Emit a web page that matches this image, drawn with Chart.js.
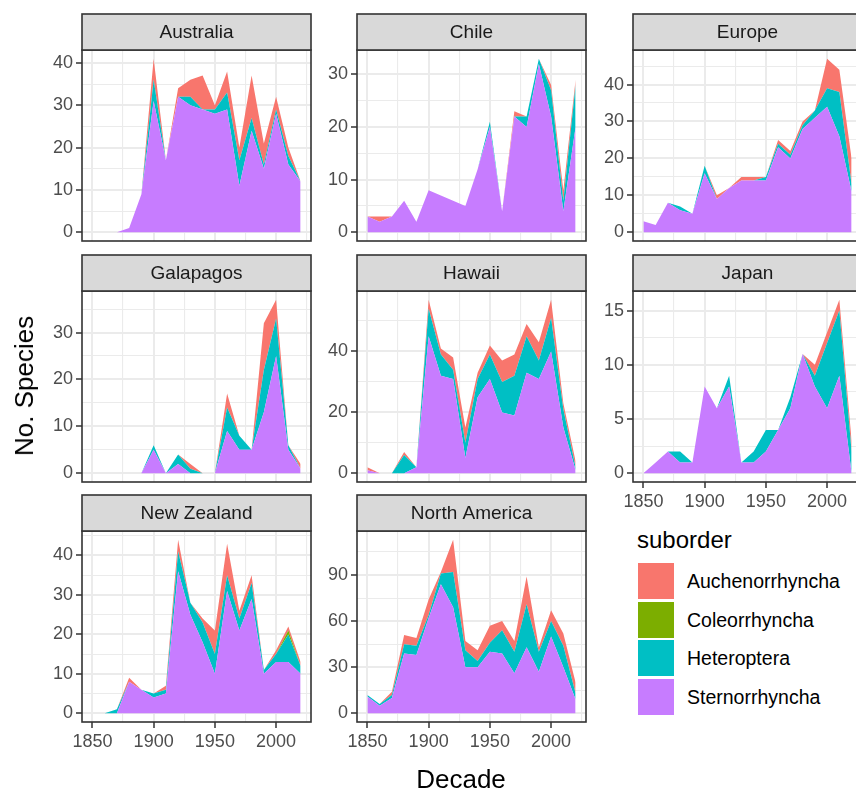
<!DOCTYPE html>
<html><head><meta charset="utf-8">
<script src="https://cdn.jsdelivr.net/npm/chart.js@4.4.1/dist/chart.umd.min.js"></script>
<style>
html,body{margin:0;padding:0;width:856px;height:792px;overflow:hidden;background:#fff;}
body{position:relative;font-family:'Liberation Sans',Arial,sans-serif;}
canvas{position:absolute;}
.t{position:absolute;white-space:nowrap;color:#000;line-height:1;}
.key{position:absolute;width:36px;height:36px;}
</style></head><body>
<script>
// ---------------- DATA ----------------
const decades = [1850,1860,1870,1880,1890,1900,1910,1920,1930,1940,1950,1960,1970,1980,1990,2000,2010,2020];
const suborders = ['Auchenorrhyncha','Coleorrhyncha','Heteroptera','Sternorrhyncha'];
const regions = ['Australia','Chile','Europe','Galapagos','Hawaii','Japan','New Zealand','North America'];
const xTickLabels = [1850,1900,1950,2000];

// Sternorrhyncha (S), Heteroptera (H), Coleorrhyncha (C), Auchenorrhyncha (A)
const australiaS = [0,0,0,1,9,31,17,32,30,29,28,29,11,24,15,28,16,12];
const australiaH = [0,0,0,0,0,5,0,0,2,0,1,4,6,3,1,1,2,0];
const australiaC = [0,0,0,0,0,0,0,0,0,0,0,0,0,0,0,0,0,0];
const australiaA = [0,0,0,0,0,5,0,2,4,8,1,5,3,10,5,3,2,0];

const chileS = [3,2,3,6,2,8,7,6,5,12,20,4,22,20,32,22,4,20];
const chileH = [0,0,0,0,0,0,0,0,0,0,1,0,0,2,1,5,2,8];
const chileC = [0,0,0,0,0,0,0,0,0,0,0,0,0,0,0,0,0,0];
const chileA = [0,1,0,0,0,0,0,0,0,0,0,0,1,0,0,1,2,1];

const europeS = [3,2,8,6,5,16,9,12,14,14,14,23,20,28,31,34,26,11];
const europeH = [0,0,0,1,0,2,0,0,0,0,1,1,1,1,2,5,12,2];
const europeC = [0,0,0,0,0,0,0,0,0,0,0,0,0,0,0,0,0,0];
const europeA = [0,0,0,0,0,0,1,0,1,1,0,1,1,1,0,8,6,7];

const galapagosS = [0,0,0,0,0,5,0,2,0,0,0,9,5,5,13,25,5,1];
const galapagosH = [0,0,0,0,0,1,0,2,1,0,0,5,3,0,9,8,1,0];
const galapagosC = [0,0,0,0,0,0,0,0,0,0,0,0,0,0,0,0,0,0];
const galapagosA = [0,0,0,0,0,0,0,0,1,0,0,3,0,0,10,4,0,1];

const hawaiiS = [1,0,0,0,2,45,32,31,5,25,31,20,19,33,31,40,15,1];
const hawaiiH = [0,0,0,6,0,9,7,3,5,6,8,10,13,12,6,11,6,1];
const hawaiiC = [0,0,0,0,0,0,0,0,0,0,0,0,0,0,0,0,0,0];
const hawaiiA = [1,0,0,1,0,3,2,4,5,2,3,7,7,4,6,6,2,2];

const japanS = [0,1,2,1,1,8,6,8,1,1,2,4,6,11,8,6,9,0];
const japanH = [0,0,0,1,0,0,0,1,0,1,2,0,1,0,1,6,6,2];
const japanC = [0,0,0,0,0,0,0,0,0,0,0,0,0,0,0,0,0,0];
const japanA = [0,0,0,0,0,0,0,0,0,0,0,0,0,0,1,1,1,1];

const newZealandS = [null,0,0,8,6,4,5,36,25,18,10,31,21,29,10,13,13,10];
const newZealandH = [null,0,1,0,0,1,1,5,3,5,5,4,3,4,1,2,7,2];
const newZealandC = [null,0,0,0,0,0,0,0,0,0,0,0,0,0,0,0,1,0];
const newZealandA = [null,0,0,1,0,0,1,3,0,1,6,8,2,2,0,1,1,1];

const northAmericaS = [11,5,10,39,38,62,84,69,30,30,40,39,26,43,27,50,30,9];
const northAmericaH = [1,1,2,6,6,2,7,23,11,4,6,15,14,28,13,10,14,4];
const northAmericaC = [0,0,0,0,0,0,0,0,0,0,0,0,0,0,0,0,0,0];
const northAmericaA = [0,0,2,6,5,10,1,21,6,7,11,6,7,18,3,7,8,7];

// y-axis label step for each facet
const yTickSteps = [10,10,10,10,20,5,10,30];
</script>
<script>
// ---------------- LAYOUT / STYLE ----------------
const FONT = "'Liberation Sans', Arial, sans-serif";
Chart.defaults.font.family = FONT;
const colorOf = {Auchenorrhyncha:'#F8766D', Coleorrhyncha:'#7CAE00', Heteroptera:'#00BFC4', Sternorrhyncha:'#C77CFF'};
const PLOT_L = [82, 357, 633], PLOT_T = [50, 291, 531];
const PLOT_W = 229, PLOT_H = 191, STRIP_H = 36, YAX_W = 45, XAX_H = 36, PAD_B = 14, PAD_T = 2;
const X_MIN = 1841.5, X_MAX = 2028.5;
const xGridTicks = [1850,1875,1900,1925,1950,1975,2000,2025];

const regionData = [
  [australiaS, australiaH, australiaC, australiaA],
  [chileS, chileH, chileC, chileA],
  [europeS, europeH, europeC, europeA],
  [galapagosS, galapagosH, galapagosC, galapagosA],
  [hawaiiS, hawaiiH, hawaiiC, hawaiiA],
  [japanS, japanH, japanC, japanA],
  [newZealandS, newZealandH, newZealandC, newZealandA],
  [northAmericaS, northAmericaH, northAmericaC, northAmericaA]
];
const showX = [false,false,false,false,false,true,true,true];

const facetPlugin = {
  id: 'facet',
  afterDraw(chart, args, opts) {
    const {ctx, chartArea: a} = chart;
    ctx.save();
    ctx.strokeStyle = '#333333';
    ctx.lineWidth = 1.6;
    ctx.strokeRect(a.left, a.top, a.right - a.left, a.bottom - a.top);
    const top = a.top - STRIP_H;
    ctx.fillStyle = '#D9D9D9';
    ctx.fillRect(a.left, top, a.right - a.left, STRIP_H);
    ctx.strokeRect(a.left, top, a.right - a.left, STRIP_H);
    ctx.fillStyle = '#1A1A1A';
    ctx.font = '19px ' + FONT;
    ctx.textAlign = 'center';
    ctx.textBaseline = 'middle';
    ctx.fillText(opts.title, (a.left + a.right) / 2, top + STRIP_H / 2 + 1);
    ctx.restore();
  }
};

function makePanel(idx) {
  const row = Math.floor(idx / 3), col = idx % 3;
  const [S, H, C, A] = regionData[idx];
  const xlab = showX[idx];
  const canvas = document.createElement('canvas');
  const left = PLOT_L[col] - YAX_W, top = PLOT_T[row] - STRIP_H - PAD_T;
  const w = YAX_W + PLOT_W + 2;
  const h = PAD_T + STRIP_H + PLOT_H + (xlab ? XAX_H : PAD_B);
  canvas.width = w; canvas.height = h;
  canvas.style.left = left + 'px'; canvas.style.top = top + 'px';
  document.body.appendChild(canvas);

  const stackOrder = ['Sternorrhyncha','Heteroptera','Coleorrhyncha','Auchenorrhyncha'];
  const arrays = [S, H, C, A];
  let maxTot = 0;
  decades.forEach((d, i) => {
    if (S[i] == null) return;
    const t = S[i] + H[i] + C[i] + A[i];
    if (t > maxTot) maxTot = t;
  });
  const yMin = -0.05 * maxTot, yMax = 1.05 * maxTot;
  const step = yTickSteps[idx];
  const yt = [];
  for (let v = 0; v <= yMax + 1e-9; v += step / 2) yt.push(v);
  const isMajY = v => Math.abs(v / step - Math.round(v / step)) < 1e-9;
  const isMajX = v => xTickLabels.includes(v);

  const datasets = arrays.map((arr, k) => ({
    label: stackOrder[k],
    data: decades.map((d, i) => arr[i] == null ? null : {x: d, y: arr[i]}).filter(v => v),
    backgroundColor: colorOf[stackOrder[k]],
    borderColor: 'rgba(0,0,0,0)',
    borderWidth: 0,
    pointRadius: 0,
    fill: k === 0 ? 'origin' : '-1',
    tension: 0
  }));

  new Chart(canvas, {
    type: 'line',
    data: {datasets},
    plugins: [facetPlugin],
    options: {
      responsive: false,
      animation: false,
      layout: {padding: {top: PAD_T + STRIP_H, right: 2, bottom: xlab ? 0 : PAD_B, left: 0}},
      plugins: {legend: {display: false}, tooltip: {enabled: false}, facet: {title: regions[idx]}},
      scales: {
        x: {
          type: 'linear', min: X_MIN, max: X_MAX,
          afterBuildTicks: s => { s.ticks = xGridTicks.map(v => ({value: v})); },
          afterFit: s => { s.height = xlab ? XAX_H : 0; },
          border: {display: false},
          grid: {
            color: '#EBEBEB',
            lineWidth: c => (c.tick && isMajX(c.tick.value)) ? 2 : 1.1,
            drawTicks: xlab, tickLength: 6, tickWidth: 1.5,
            tickColor: c => (c.tick && isMajX(c.tick.value)) ? '#333333' : 'rgba(0,0,0,0)'
          },
          ticks: {
            display: xlab, autoSkip: false, maxRotation: 0, minRotation: 0,
            color: '#4D4D4D', font: {size: 18}, padding: 3,
            callback: v => isMajX(v) ? String(v) : ''
          }
        },
        y: {
          stacked: true, min: yMin, max: yMax,
          afterBuildTicks: s => { s.ticks = yt.map(v => ({value: v})); },
          afterFit: s => { s.width = YAX_W; },
          border: {display: false},
          grid: {
            color: '#EBEBEB',
            lineWidth: c => (c.tick && isMajY(c.tick.value)) ? 2 : 1.1,
            drawTicks: true, tickLength: 6, tickWidth: 1.5,
            tickColor: c => (c.tick && isMajY(c.tick.value)) ? '#333333' : 'rgba(0,0,0,0)'
          },
          ticks: {
            color: '#4D4D4D', font: {size: 18}, padding: 3, autoSkip: false,
            callback: v => isMajY(v) ? String(Math.round(v)) : ''
          }
        }
      }
    }
  });
}
regions.forEach((r, i) => makePanel(i));

// ---------------- TEXT: axis titles & legend ----------------
function addText(txt, size, leftPx, baseline, extra) {
  const d = document.createElement('div');
  d.className = 't';
  d.textContent = txt;
  d.style.fontSize = size + 'px';
  d.style.left = leftPx + 'px';
  d.style.top = (baseline - 0.8465 * size) + 'px';
  if (extra) Object.assign(d.style, extra);
  document.body.appendChild(d);
  return d;
}
// x title
const dx = addText('Decade', 26, 0, 788);
dx.style.left = '461px'; dx.style.transform = 'translateX(-50%)';
// y title
const dy = document.createElement('div');
dy.className = 't'; dy.textContent = 'No. Species'; dy.style.fontSize = '26px';
dy.style.left = '24px'; dy.style.top = '386px';
dy.style.transform = 'translate(-50%,-50%) rotate(-90deg)';
document.body.appendChild(dy);

// legend
addText('suborder', 24, 637, 548);
const keyTops = [563, 601.5, 640, 678.5];
suborders.forEach((s, i) => {
  const k = document.createElement('div');
  k.className = 'key';
  k.style.left = '638px'; k.style.top = keyTops[i] + 'px';
  k.style.background = colorOf[s];
  document.body.appendChild(k);
  addText(s, 19.5, 687, keyTops[i] + 26);
});
</script>
</body></html>
